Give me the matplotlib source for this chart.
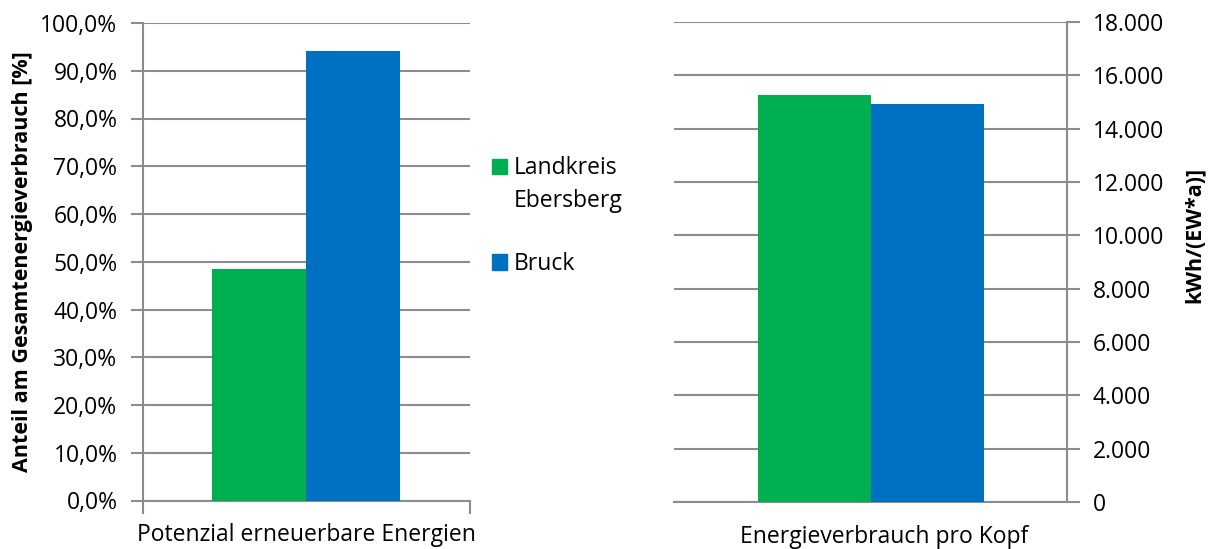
import matplotlib.pyplot as plt
from matplotlib.patches import Rectangle
from matplotlib.ticker import FuncFormatter
from matplotlib.transforms import ScaledTranslation

# Data
series = ["Landkreis\nEbersberg", "Bruck"]
colors = ["#00B050", "#0070C0"]
anteil_ee = [48.5, 94.2]          # % renewable potential
verbrauch = [15280, 14910]        # kWh per inhabitant and year
left_cat = "Potenzial erneuerbare Energien"
right_cat = "Energieverbrauch pro Kopf"
left_ticks = list(range(0, 101, 10))
right_ticks = list(range(0, 18001, 2000))

plt.rcParams['font.family'] = ['Open Sans', 'DejaVu Sans']
grid_col = "#8C8C8C"
fs = 16.5

fig = plt.figure(figsize=(12.14, 5.49), dpi=100)
ax1 = fig.add_axes([142.5 / 1214, 1 - 500.5 / 549, 327.5 / 1214, 477.5 / 549])
ax2 = fig.add_axes([674 / 1214, 1 - 502 / 549, 393.5 / 1214, 480 / 549])

bw = 0.2875
offsets = [-bw / 2, bw / 2]


def style(ax, ticks, side):
    ax.set_xlim(-0.5, 0.5)
    ax.set_ylim(ticks[0], ticks[-1])
    ax.set_yticks(ticks)
    ax.grid(axis='y', color=grid_col, linewidth=1.5)
    ax.set_axisbelow(True)
    for s in ax.spines.values():
        s.set_visible(False)
    for s in ['bottom', side]:
        ax.spines[s].set_visible(True)
        ax.spines[s].set_color(grid_col)
        ax.spines[s].set_linewidth(1.5)
    ax.tick_params(axis='y', length=9, width=1.5, color=grid_col, labelsize=fs,
                   pad=9, labelcolor='black')
    ax.tick_params(axis='x', which='major', length=0, labelsize=fs, pad=16.5)


# left chart
for i in range(len(series)):
    ax1.bar(offsets[i], anteil_ee[i], width=bw, color=colors[i], zorder=3)
style(ax1, left_ticks, 'left')
ax1.yaxis.set_major_formatter(FuncFormatter(lambda v, p: f"{v:.1f}%".replace('.', ',')))
ax1.set_xticks([0])
ax1.set_xticklabels([left_cat])
ax1.set_xticks([-0.5, 0.5], minor=True)
ax1.tick_params(axis='x', which='minor', length=9, width=1.5, color=grid_col)
ax1.set_ylabel("Anteil am Gesamtenergieverbrauch [%]", fontsize=15.5, fontweight='bold')
ax1.yaxis.set_label_coords(-0.335, 0.5)

# right chart
for i in range(len(series)):
    ax2.bar(offsets[i], verbrauch[i], width=bw, color=colors[i], zorder=3)
style(ax2, right_ticks, 'right')
ax2.yaxis.tick_right()
ax2.yaxis.set_major_formatter(FuncFormatter(lambda v, p: f"{int(v):,}".replace(',', '.')))
ax2.set_xticks([0])
ax2.set_xticklabels([right_cat])
shift = ScaledTranslation(13 / 100, 0, fig.dpi_scale_trans)
for lab in ax2.get_xticklabels():
    lab.set_transform(lab.get_transform() + shift)
ax2.set_ylabel("kWh/(EW*a)]", fontsize=15.5, fontweight='bold')
ax2.yaxis.set_label_position('right')
ax2.yaxis.set_label_coords(1.295, 0.556)

# legend
leg_y = [166, 262]
for i, name in enumerate(series):
    y = 1 - leg_y[i] / 549
    fig.patches.append(Rectangle((492 / 1214, y - 7.5 / 549), 15 / 1214, 15 / 549,
                                 transform=fig.transFigure, color=colors[i]))
    for j, line in enumerate(name.split('\n')):
        fig.text(514 / 1214, 1 - (leg_y[i] + 8 + 33 * j) / 549, line, fontsize=fs,
                 va='baseline', ha='left')

fig.savefig("out.png", dpi=100)
